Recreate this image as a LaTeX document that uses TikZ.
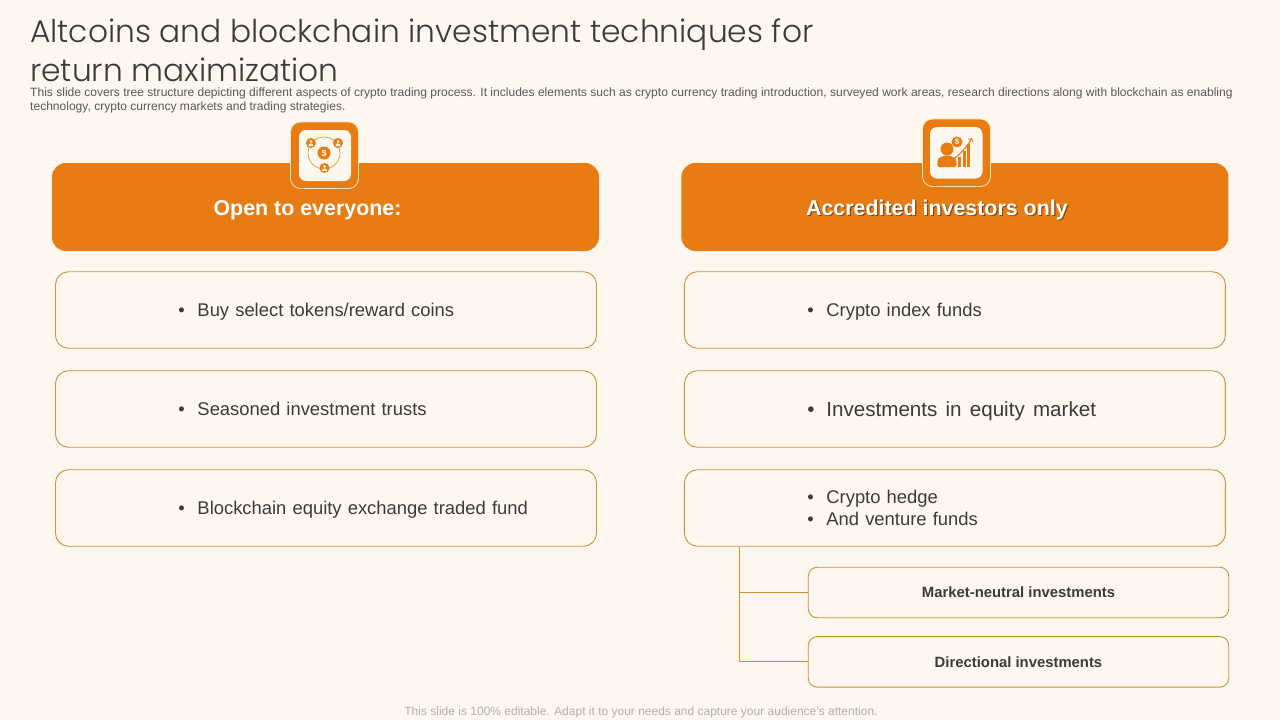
\documentclass[tikz,border=0pt]{standalone}
\usepackage{fontspec}
\setmainfont{Liberation Sans}
\newfontfamily\titlefont[UprightFont=* Light]{Poppins}
\usetikzlibrary{positioning}
\definecolor{paper}{HTML}{FEF7F0}
\definecolor{accent}{HTML}{E87B11}
\definecolor{edge}{HTML}{C9933A}
\definecolor{ink}{HTML}{3B3B3B}
\definecolor{note}{HTML}{595959}
\definecolor{faint}{HTML}{B5B0AA}
\definecolor{halo}{HTML}{FFE3B8}
\definecolor{shade}{HTML}{7A4A1A}
\newcommand\bulletrow[2][4.55pt]{\hspace*{123pt}\makebox[19pt][l]{\textbullet}\rule[-#1]{0pt}{22.5pt}#2\par}
\newcommand\shaded[1]{\rlap{\kern1.2pt\raisebox{-1.2pt}{\color{shade}#1}}#1}
\tikzset{
	header/.style = {
		fill = accent,
		rectangle,
		rounded corners = 14pt,
		minimum height = 88pt,
		minimum width = 547pt,
		text = white,
		text height = 16.5pt,
		text depth = 0pt,
		font = \fontsize{21.4}{25}\selectfont\bfseries
	},
	box/.style = {
		draw = edge,
		line width = 0.9pt,
		rectangle,
		rounded corners = 13pt,
		text = ink,
		inner xsep = 0pt,
		align = left,
		text width = 541pt,
		minimum height = 76.5pt,
		font = \fontsize{18.4}{22.5}\selectfont
	},
	subbox/.style = {
		draw = edge,
		line width = 0.9pt,
		rectangle,
		rounded corners = 9pt,
		text = ink,
		minimum height = 50.5pt,
		minimum width = 420.5pt,
		font = \fontsize{14.85}{17}\selectfont\bfseries
	},
	link/.style = {
		draw = edge,
		line width = 1pt
	},
	iconframe/.style = {
		fill = accent,
		draw = halo,
		line width = 0.8pt,
		rounded corners = 10pt
	},
	iconpad/.style = {
		fill = paper,
		rounded corners = 7pt
	}
}
\begin{document}
\begin{tikzpicture}[x = 1pt, y = -1pt]
	\fill [paper] (0,0) rectangle (1280,720) ;
	\useasboundingbox (0,0) rectangle (1280,720) ;

	\node [anchor = north west, inner sep = 0pt, align = left, text = ink, font = \titlefont\fontsize{31.3}{39}\selectfont] (title) at (30,19) {Altcoins and blockchain investment techniques for\\return maximization} ;
	\node [anchor = north west, inner sep = 0pt, align = left, text = note, font = \fontsize{12.05}{14.5}\selectfont] (intro) at (30,87.5) {This slide covers tree structure depicting different aspects of crypto trading process. It includes elements such as crypto currency trading introduction, surveyed work areas, research directions along with blockchain as enabling\\technology, crypto currency markets and trading strategies.} ;

	\node [header] (open) at (325.5,207) {\kern-36pt Open to everyone:} ;
	\node [header, right = 82pt of open] (accredited) {\kern-36pt\shaded{Accredited investors only}} ;

	\node [box] (tokens) at (326,310) {\bulletrow{Buy select tokens/reward coins}} ;
	\node [box, below = 21.6pt of tokens] (trusts) {\bulletrow{Seasoned investment trusts}} ;
	\node [box, below = 21.6pt of trusts] (fund) {\bulletrow{Blockchain equity exchange traded fund}} ;
	\node [box, right = 87pt of tokens] (index) {\bulletrow{Crypto index funds}} ;
	\node [box, right = 87pt of trusts] (equity) {\fontsize{20.6}{24}\selectfont\spaceskip=8.2pt\bulletrow[3pt]{Investments in equity market}} ;
	\node [box, right = 87pt of fund] (hedge) {\bulletrow{Crypto hedge}\bulletrow{And venture funds}} ;

	\node [subbox] (neutral) at (1018.5,592.5) {Market-neutral investments} ;
	\node [subbox, below = 18pt of neutral] (directional) {Directional investments} ;

	\coordinate (trunk) at (739.5,547) ;
	\draw [link] (trunk) |- (neutral.west) ;
	\draw [link] (trunk) |- (directional.west) ;

	% left icon
	\draw [iconframe] (290.5,122) rectangle (358.5,188.5) ;
	\fill [iconpad] (299,130) rectangle (351,181) ;
	\draw [edge!80!accent, line width = 0.6pt] (324,153) circle (16pt) ;
	\foreach \px/\py in {311/143, 338/143, 324.5/168} {
		\fill [accent] (\px,\py) circle (5pt) ;
		\fill [paper] (\px,\py-1.5) circle (1.5pt) ;
		\fill [paper] (\px-2.6,\py+3) arc (180:0:2.6pt) -- cycle ;
	}
	\node [circle, fill = accent, text = paper, inner sep = 0pt, minimum size = 13pt, font = \fontsize{9}{9}\selectfont\bfseries] (coin) at (324,153) {\$} ;

	% right icon
	\draw [iconframe] (922.5,119) rectangle (990.5,186.5) ;
	\fill [iconpad] (930,127) rectangle (982.5,178.5) ;
	\fill [accent] (947,149) circle (6.5pt) ;
	\fill [accent, rounded corners = 2.5pt] (937,167) -- (938,158) -- (947,155) -- (956,158) -- (957,167) -- cycle ;
	\foreach \bx/\bt in {958/157, 962.5/151, 967/144} {
		\fill [accent] (\bx,\bt) rectangle (\bx+3,167) ;
	}
	\draw [accent, line width = 1.1pt, ->] (952,160) to [bend right = 12] (972,138) ;
	\node [circle, fill = accent, text = paper, inner sep = 0pt, minimum size = 11pt, font = \fontsize{8}{8}\selectfont\bfseries] (token) at (957,142) {\$} ;

	\node [text = faint, inner sep = 0pt, font = \fontsize{12}{14}\selectfont] (foot) at (641,712) {This slide is 100\% editable. Adapt it to your needs and capture your audience's attention.} ;
\end{tikzpicture}
\end{document}
